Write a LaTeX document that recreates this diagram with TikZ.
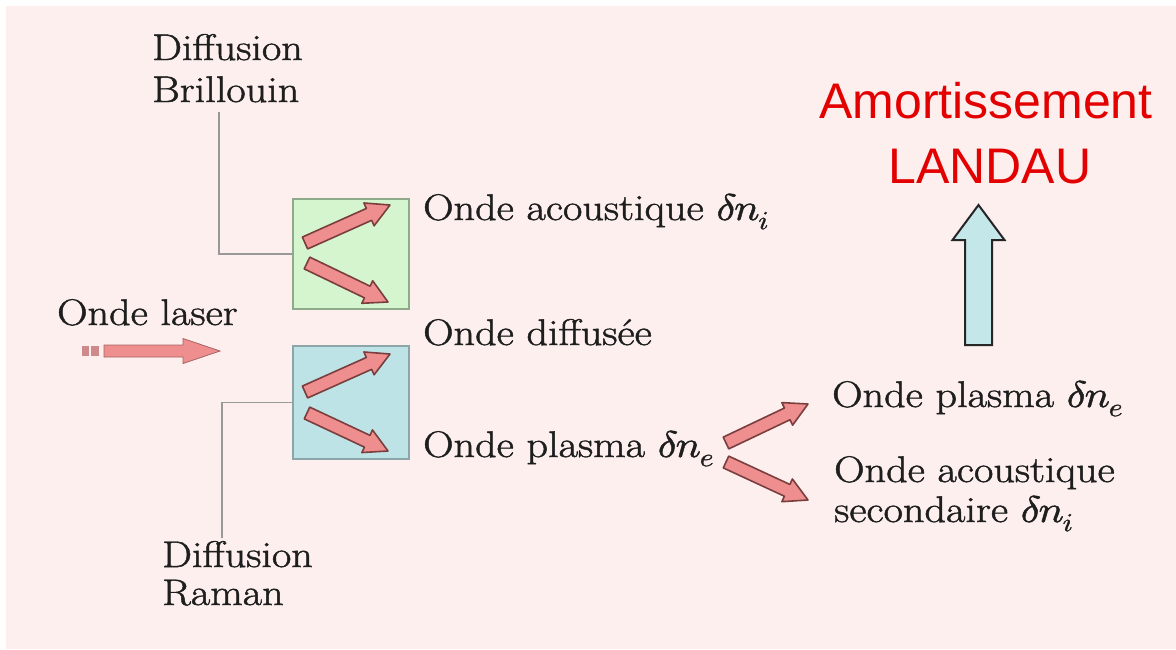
\documentclass[tikz,border=0pt]{standalone}
\usepackage{fontspec}
\usepackage{unicode-math}
\setmainfont{Latin Modern Roman}[FakeStretch=1.14,FakeBold=1.3]
\setmathfont{Latin Modern Math}[FakeStretch=1.14,FakeBold=1.3]
\newfontfamily\redsans{Liberation Sans}
\usetikzlibrary{calc}
\definecolor{bgpink}{HTML}{FCEFEE}
\definecolor{boxgreen}{HTML}{D4F5CD}
\definecolor{boxgreenline}{HTML}{8FAA8A}
\definecolor{boxblue}{HTML}{BEE3E6}
\definecolor{boxblueline}{HTML}{8CA5A8}
\definecolor{arrowpink}{HTML}{EF8E8E}
\definecolor{arrowline}{HTML}{7A3E3E}
\definecolor{uparrow}{HTML}{C4E7E9}
\definecolor{landau}{HTML}{E30000}
\definecolor{txt}{HTML}{1E1E1E}
\newcommand\fatarrow[6]{%
  \coordinate (fa-h) at ($(#3)!#6!(#2)$);
  \draw[#1] ($(#2)!#4!90:(#3)$) -- ($(fa-h)!#4!-90:(#2)$) -- ($(fa-h)!#5!-90:(#2)$)
    -- (#3) -- ($(fa-h)!#5!90:(#2)$) -- ($(fa-h)!#4!90:(#2)$) -- ($(#2)!#4!-90:(#3)$) -- cycle;}
\newcommand\dn[1]{$\delta n_{\kern2pt #1}$}
\tikzset{
  lbl/.style={anchor=base west, inner sep=0pt, text=txt, font=\fontsize{37}{41}\selectfont},
  redlbl/.style={anchor=base, inner sep=0pt, text=landau, font=\redsans\fontsize{50}{58}\selectfont},
  pinkarrow/.style={fill=arrowpink, draw=arrowline, line width=1.6pt, line join=round},
  connector/.style={draw=gray!80, line width=1.4pt},
  greenbox/.style={fill=boxgreen, draw=boxgreenline, line width=2pt},
  bluebox/.style={fill=boxblue, draw=boxblueline, line width=2pt},
}
\begin{document}
\begin{tikzpicture}[x=1pt,y=-1pt]
\useasboundingbox (0,0) rectangle (1176,649);
\fill[white] (0,0) rectangle (1176,649);
\fill[bgpink] (6,6) rectangle (1176,649);

% boxes
\node[greenbox, minimum width=116pt, minimum height=110pt, inner sep=0pt, anchor=north west] (gbox) at (292,198) {};
\node[bluebox, minimum width=116pt, minimum height=113pt, inner sep=0pt, anchor=north west] (bbox) at (292,345) {};

% labels
\node[lbl] (dif1) at (152,60) {Diffusion};
\node[lbl] (bril) at (152,102) {Brillouin};
\node[lbl] (dif2) at (162,567) {Diffusion};
\node[lbl] (raman) at (162,605) {Raman};
\node[lbl] (laser) at (57,325) {Onde laser};
\node[lbl] (ac1) at (423,220) {Onde acoustique \dn{i}};
\node[lbl] (diff) at (423,345) {Onde diffusée};
\node[lbl] (pl1) at (423,457) {Onde plasma \dn{e}};
\node[lbl] (pl2) at (832,407) {Onde plasma \dn{e}};
\node[lbl] (ac2) at (834,482) {Onde acoustique};
\node[lbl] (sec) at (834,522) {secondaire \dn{i}};
\node[redlbl] (amort) at (986,118) {Amortissement};
\node[redlbl] (landau) at (990,183) {LANDAU};

% connectors
\coordinate (bc) at (219,112);
\draw[connector] (bc) |- (gbox.west);
\coordinate (rc) at (222,538);
\draw[connector] (rc) |- (bbox.west);

% laser arrow
\fill[arrowpink!70!gray] (82,346) rectangle (89,356);
\fill[arrowpink!70!gray] (91,346) rectangle (99,356);
\coordinate (la1) at (104,351);
\coordinate (la2) at (220,351);
\fatarrow{fill=arrowpink, draw=arrowpink!70!black, line width=0.8pt}{la1}{la2}{6pt}{12.5pt}{37pt}

% arrows in green box
\coordinate (g1a) at (305,243);
\coordinate (g1b) at (390,205);
\coordinate (g2a) at (307,263);
\coordinate (g2b) at (388,302);
\fatarrow{pinkarrow}{g1a}{g1b}{6.5pt}{12.5pt}{23pt}
\fatarrow{pinkarrow}{g2a}{g2b}{6.5pt}{12.5pt}{23pt}

% arrows in blue box
\coordinate (b1a) at (305,392);
\coordinate (b1b) at (390,354);
\coordinate (b2a) at (307,413);
\coordinate (b2b) at (388,451);
\fatarrow{pinkarrow}{b1a}{b1b}{6.5pt}{12.5pt}{23pt}
\fatarrow{pinkarrow}{b2a}{b2b}{6.5pt}{12.5pt}{23pt}

% secondary arrows
\coordinate (s1a) at (726,443);
\coordinate (s1b) at (808,404);
\coordinate (s2a) at (726,462);
\coordinate (s2b) at (808,500);
\fatarrow{pinkarrow}{s1a}{s1b}{6.5pt}{12.5pt}{23pt}
\fatarrow{pinkarrow}{s2a}{s2b}{6.5pt}{12.5pt}{23pt}

% up arrow
\coordinate (ua) at (978.5,345);
\coordinate (ub) at (978.5,205);
\fatarrow{fill=uparrow, draw=black!85, line width=2pt, line join=miter}{ua}{ub}{13.5pt}{26pt}{35pt}
\end{tikzpicture}
\end{document}
